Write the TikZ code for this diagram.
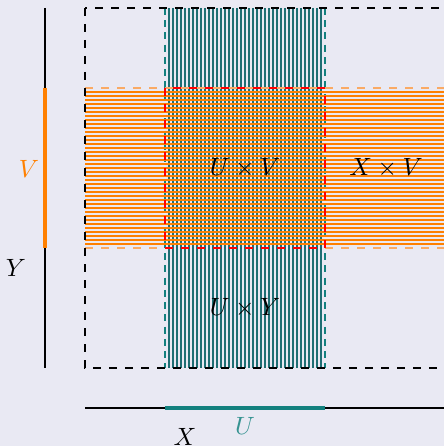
\documentclass[tikz,border=0pt]{standalone}
\usepackage{amsmath}
\definecolor{bgc}{RGB}{233,233,243}
\definecolor{tealc}{RGB}{18,128,126}
\definecolor{tline}{RGB}{30,110,115}
\definecolor{orangec}{RGB}{255,128,0}
\definecolor{lightor}{RGB}{250,170,100}
\begin{document}
\begin{tikzpicture}[x=0.4pt,y=-0.4pt,
  tline/.style={draw=tline,line width=0.42pt},
  oline/.style={draw=orangec,line width=0.45pt},
  blackdash/.style={draw=black,line width=0.75pt,dash pattern=on 3.2pt off 3.2pt},
  tealdash/.style={draw=tealc,line width=0.45pt,dash pattern=on 2.8pt off 2.1pt},
  orangedash/.style={draw=lightor,line width=0.5pt,dash pattern=on 3.2pt off 3.2pt},
  reddash/.style={draw=red,line width=0.7pt,dash pattern=on 3.2pt off 3.2pt},
  axisline/.style={draw=black,line width=0.6pt},
  tbar/.style={draw=tealc,line width=1.7pt},
  obar/.style={draw=orangec,line width=1.8pt},
  lbl/.style={inner sep=0pt}]
\fill[bgc] (0,0) rectangle (444,446);
\useasboundingbox (0,0) rectangle (444,446);
\clip (0,0) rectangle (444,446);
% vertical teal lines (U x Y column)
\foreach \x in {169,173,...,321} \draw[tline] (\x,8) -- (\x,368);
\draw[tealdash] (165,8) -- (165,368);
\draw[tealdash] (325,8) -- (325,368);
% horizontal orange lines (X x V row)
\foreach \y in {92,96,...,244} \draw[oline] (85,\y) -- (460,\y);
\draw[orangedash] (85,88) -- (460,88);
\draw[orangedash] (85,248) -- (460,248);
% outer square X x Y
\draw[blackdash] (85,8) rectangle (470,368);
% U x V
\draw[reddash] (165,88) rectangle (325,248);
% axes
\coordinate (ytop) at (45,8);
\coordinate (ybot) at (45,368);
\coordinate (vtop) at (45,88);
\coordinate (vbot) at (45,248);
\coordinate (xl) at (85,408);
\coordinate (xr) at (460,408);
\coordinate (ul) at (165,408);
\coordinate (ur) at (325,408);
\draw[axisline] (ytop) -- (ybot);
\draw[axisline] (xl) -- (xr);
\draw[obar] (vtop) -- (vbot);
\draw[tbar] (ul) -- (ur);
% labels
\node[lbl] (luv) at (245,168) {$U\times V$};
\node[lbl] (lxv) at (386,168) {$X\times V$};
\node[lbl] (luy) at (245,308) {$U\times Y$};
\node[lbl,text=orangec] (lv) at (29,169) {$V$};
\node[lbl] (ly) at (16,268) {$Y$};
\node[lbl] (lx) at (185,437) {$X$};
\node[lbl,text=tealc!85] (lu) at (245,426) {$U$};
\end{tikzpicture}
\end{document}
